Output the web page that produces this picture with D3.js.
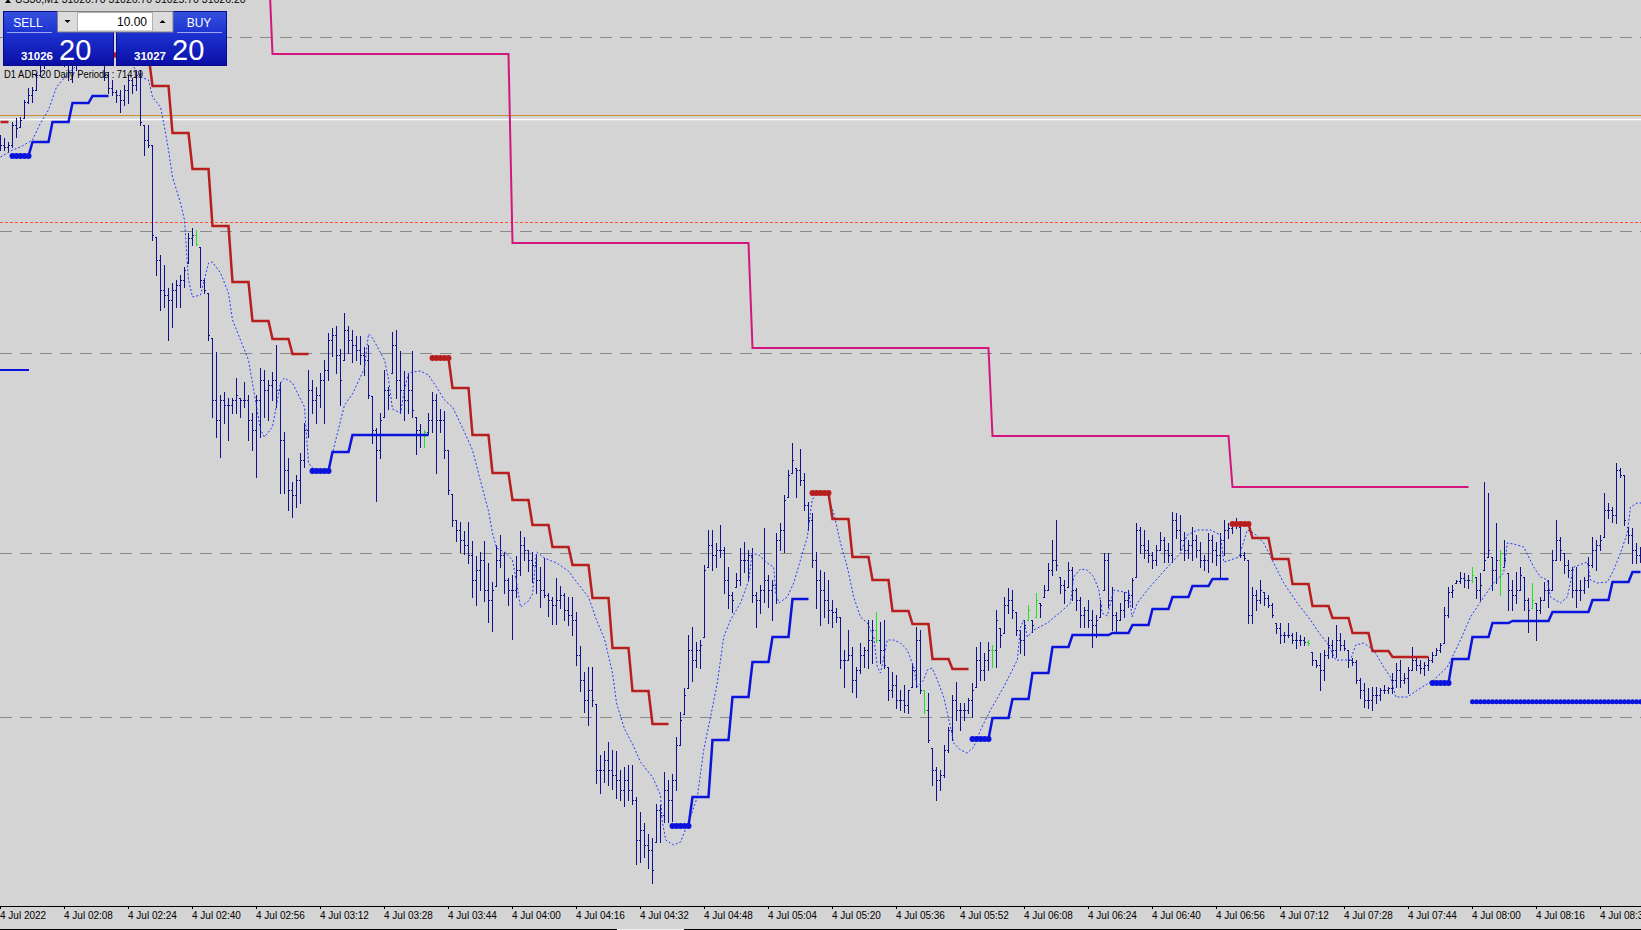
<!DOCTYPE html>
<html>
<head>
<meta charset="utf-8">
<script src="https://cdnjs.cloudflare.com/ajax/libs/d3/7.8.5/d3.min.js"></script>
<style>
  body { margin: 0; background: #d4d4d4; overflow: hidden; }
  svg { display: block; }
  text { font-family: "Liberation Sans", Arial, sans-serif; }
</style>
</head>
<body>
<svg id="chart"></svg>
<script>
/* US30 M1 - bars, trailing stop steps, average, levels */

// one value per minute bar, 01:52 .. 08:42
var highs = [
  31465,31462,31458,31478,31482,31483,31500,31512,31513,31527,
  31542,31548,31555,31560,31562,31558,31552,31545,31542,31550,
  31558,31564,31570,31566,31562,31555,31545,31528,31520,31510,
  31510,31515,31525,31522,31530,31530,31475,31475,31455,31363,
  31345,31335,31312,31317,31320,31325,31333,31367,31372,31370,
  31353,31322,31307,31262,31248,31205,31208,31202,31202,31222,
  31202,31218,31205,31187,31205,31232,31230,31220,31228,31255,
  31218,31168,31142,31118,31125,31147,31177,31230,31220,31213,
  31227,31240,31267,31272,31274,31251,31287,31274,31270,31264,
  31264,31253,31255,31204,31172,31187,31230,31213,31268,31270,
  31249,31229,31227,31249,31183,31176,31170,31187,31208,31206,
  31191,31189,31150,31106,31080,31078,31069,31078,31059,31044,
  31048,31059,31037,31018,31055,31065,31048,31022,31025,31044,
  31069,31063,31050,31048,31046,31033,31042,31007,31003,31022,
  31014,31007,31003,31003,30988,30954,30928,30933,30933,30896,
  30845,30849,30858,30850,30849,30830,30833,30835,30835,30803,
  30788,30777,30766,30762,30796,30795,30828,30820,30826,30863,
  30888,30912,30965,30973,30958,30960,31035,31070,31070,31057,
  31075,31053,31033,31008,31027,31052,31058,31050,31052,31008,
  31015,31072,31025,31020,31067,31077,31105,31130,31157,31132,
  31151,31127,31098,31087,31048,31030,31028,31020,31000,30992,
  30983,30950,30970,30953,30933,30957,30953,30980,30980,30988,
  30978,30980,30933,30928,30925,30910,30915,30910,30937,30973,
  30970,30910,30907,30852,30833,30830,30855,30873,30905,30918,
  30897,30897,30902,30917,30953,30958,30947,30958,30955,30990,
  30972,31003,31012,31010,30988,30970,30980,30995,30980,31007,
  30997,31015,31037,31060,31080,31023,31020,31038,31033,31012,
  31003,30993,31000,30990,30985,31000,31047,31047,31013,30988,
  30997,31008,31010,31022,31077,31073,31070,31060,31048,31055,
  31068,31063,31057,31088,31087,31085,31068,31060,31073,31065,
  31058,31045,31067,31065,31058,31067,31080,31077,31078,31082,
  31073,31048,31040,31013,31010,31020,31008,31005,30997,30977,
  30977,30968,30977,30967,30968,30965,30963,30960,30948,30940,
  30947,30950,30963,30960,30975,30967,30960,30950,30942,30940,
  30922,30917,30912,30913,30913,30912,30915,30913,30927,30937,
  30940,30927,30933,30953,30942,30940,30938,30943,30948,30952,
  30957,30993,31013,31015,31020,31028,31027,31025,31033,31023,
  31027,31118,31107,31043,31077,31050,31060,31027,31020,31028,
  31033,31023,31002,31017,30997,31003,31018,31020,31050,31080,
  31063,31047,31040,31033,31033,31020,31023,31043,31063,31060,
  31065,31107,31097,31093,31137,31132,31125,31073,31072,31057,31053
];
var lows = [
  31450,31450,31448,31453,31463,31473,31482,31497,31498,31510,
  31524,31532,31538,31542,31545,31540,31534,31520,31518,31530,
  31538,31545,31550,31548,31542,31536,31520,31507,31505,31498,
  31488,31495,31497,31507,31510,31475,31445,31453,31360,31325,
  31290,31293,31260,31273,31293,31293,31313,31337,31355,31355,
  31313,31307,31260,31183,31163,31143,31177,31160,31187,31187,
  31183,31193,31160,31150,31123,31163,31183,31180,31200,31193,
  31107,31107,31090,31083,31093,31097,31133,31163,31187,31177,
  31193,31177,31220,31244,31227,31195,31240,31247,31238,31240,
  31236,31225,31202,31157,31099,31142,31183,31191,31227,31202,
  31187,31180,31187,31183,31146,31153,31153,31166,31168,31127,
  31168,31142,31106,31074,31059,31048,31046,31037,31003,30995,
  31010,30999,30978,30969,31014,31033,31007,30995,30961,31003,
  31025,31040,31029,31018,31007,30993,31003,30984,30976,30976,
  30992,30980,30975,30965,30935,30909,30888,30875,30894,30817,
  30807,30818,30815,30811,30802,30800,30794,30800,30796,30736,
  30738,30743,30732,30717,30758,30758,30778,30778,30779,30810,
  30855,30886,30912,30919,30933,30932,30963,31033,31030,31033,
  31043,31007,30992,30988,31013,31015,31028,31020,30998,30973,
  30987,30998,30993,30980,30997,31050,31048,31103,31127,31103,
  31115,31090,31070,31033,30992,30975,30983,30977,30973,30978,
  30932,30913,30940,30908,30903,30927,30933,30932,30937,30958,
  30937,30932,30900,30903,30892,30890,30888,30887,30913,30913,
  30907,30887,30858,30815,30800,30810,30823,30848,30860,30880,
  30870,30880,30887,30883,30913,30920,30920,30930,30933,30933,
  30953,30967,30987,30982,30965,30947,30945,30980,30968,30983,
  30983,31003,31010,31025,31030,31007,30997,31013,31000,30990,
  30973,30973,30973,30953,30963,30983,31010,30993,30970,30968,
  30980,30983,30993,30993,31023,31047,31042,31038,31032,31035,
  31050,31038,31038,31038,31062,31050,31040,31042,31040,31043,
  31033,31030,31028,31038,31035,31023,31045,31062,31067,31072,
  31043,31040,30977,30977,30990,30997,30995,30993,30983,30967,
  30957,30958,30963,30957,30952,30955,30955,30955,30935,30933,
  30910,30920,30942,30943,30943,30950,30950,30933,30935,30917,
  30902,30893,30892,30890,30897,30900,30907,30907,30907,30913,
  30913,30917,30907,30930,30930,30927,30925,30930,30938,30945,
  30948,30957,30983,31003,31017,31017,31013,31012,31018,31002,
  31000,31030,31043,31010,31017,31005,31033,30990,30990,30997,
  31010,30990,30968,30992,30960,30987,31000,30993,31010,31040,
  31040,31027,31023,31003,30993,31000,31007,31013,31033,31030,
  31050,31063,31082,31078,31077,31123,31075,31057,31037,31037,31038
];
var closes = [
  31455,31453,31455,31475,31472,31480,31498,31505,31510,31525,
  31535,31542,31550,31552,31555,31545,31540,31528,31538,31545,
  31552,31560,31558,31554,31550,31542,31525,31512,31508,31505,
  31500,31510,31520,31515,31525,31478,31460,31455,31365,31340,
  31310,31305,31300,31310,31315,31320,31330,31362,31365,31356,
  31320,31310,31265,31200,31180,31200,31195,31195,31200,31205,
  31200,31200,31180,31170,31200,31220,31210,31215,31220,31210,
  31160,31130,31110,31105,31120,31140,31170,31210,31200,31205,
  31220,31230,31260,31265,31245,31220,31270,31260,31255,31250,
  31245,31240,31205,31170,31150,31180,31210,31205,31255,31220,
  31210,31200,31210,31190,31170,31165,31168,31180,31200,31180,
  31180,31150,31110,31080,31070,31060,31055,31045,31020,31030,
  31040,31010,31000,31010,31040,31045,31020,31010,31010,31030,
  31055,31050,31040,31035,31020,31010,31005,31000,30995,31000,
  31005,30990,30985,30980,30945,30920,30900,30910,30900,30830,
  30830,30840,30830,30825,30820,30810,30820,30810,30800,30760,
  30770,30755,30750,30730,30790,30785,30810,30800,30820,30855,
  30880,30905,30950,30940,30950,30955,31030,31055,31045,31050,
  31050,31020,31005,31000,31020,31040,31040,31045,31005,31000,
  31010,31020,31010,31015,31060,31070,31100,31125,31140,31130,
  31120,31095,31080,31040,31020,31010,31000,30990,30988,30983,
  30940,30940,30945,30920,30930,30945,30950,30960,30970,30960,
  30950,30935,30910,30915,30900,30900,30895,30910,30930,30960,
  30910,30890,30860,30830,30820,30825,30850,30870,30900,30890,
  30890,30890,30900,30910,30940,30930,30940,30950,30950,30980,
  30965,30995,31000,30990,30970,30960,30975,30990,30975,31000,
  30995,31010,31030,31040,31035,31015,31010,31030,31010,31000,
  30985,30990,30980,30975,30980,30995,31040,31000,30985,30980,
  30990,31000,31005,31020,31070,31055,31050,31045,31040,31050,
  31060,31050,31045,31080,31070,31060,31050,31055,31060,31050,
  31040,31040,31060,31050,31045,31060,31070,31072,31075,31075,
  31045,31042,30985,31005,31000,31010,31002,30995,30985,30972,
  30965,30965,30965,30960,30960,30960,30958,30957,30940,30935,
  30930,30945,30955,30950,30960,30955,30952,30940,30938,30920,
  30910,30900,30900,30905,30905,30910,30910,30912,30920,30930,
  30920,30922,30930,30940,30935,30932,30935,30940,30945,30950,
  30955,30985,31008,31010,31019,31022,31020,31020,31025,31010,
  31015,31040,31050,31030,31040,31030,31040,31010,31005,31010,
  31025,31000,30990,31000,30990,31000,31010,31010,31040,31060,
  31050,31035,31030,31010,31010,31010,31020,31035,31050,31055,
  31060,31090,31090,31085,31130,31125,31080,31065,31050,31045,31045
];
var firstOpen = 31450;
var greenBars = [49, 106, 219, 231, 248, 257, 259, 327, 368, 375, 383];

// trailing stop: each trend is a list of [fromBar, toBar, price]
var redTrends = [
  [[0, 2, 31478]],
  [[28, 37, 31545], [38, 42, 31514], [43, 47, 31467], [48, 52, 31431], [53, 57, 31374],
   [58, 62, 31318], [63, 67, 31279], [68, 72, 31261], [73, 77, 31246]],
  [[108, 112, 31242], [113, 117, 31212], [118, 122, 31165], [123, 127, 31127], [128, 132, 31100],
   [133, 137, 31075], [138, 142, 31053], [143, 147, 31035], [148, 152, 31002], [153, 157, 30952],
   [158, 162, 30909], [163, 167, 30876]],
  [[203, 207, 31107], [208, 212, 31081], [213, 217, 31043], [218, 222, 31020], [223, 227, 30989],
   [228, 232, 30976], [233, 237, 30941], [238, 242, 30931]],
  [[308, 312, 31076], [313, 317, 31062], [318, 322, 31041], [323, 327, 31016], [328, 332, 30994],
   [333, 337, 30982], [338, 342, 30967], [343, 347, 30949], [348, 357, 30943]]
];
var blueTrends = [
  [[3, 7, 31444], [8, 12, 31458], [13, 17, 31478], [18, 22, 31497], [23, 27, 31504]],
  [[78, 82, 31129], [83, 87, 31148], [88, 107, 31165]],
  [[168, 172, 30774], [173, 177, 30803], [178, 182, 30860], [183, 187, 30903], [188, 192, 30938],
   [193, 197, 30963], [198, 202, 31001]],
  [[243, 247, 30861], [248, 252, 30882], [253, 257, 30901], [258, 262, 30927], [263, 267, 30953],
   [268, 277, 30965], [278, 282, 30967], [283, 287, 30975], [288, 292, 30991], [293, 297, 31003],
   [298, 302, 31014], [303, 307, 31021]],
  [[358, 362, 30917], [363, 367, 30941], [368, 372, 30963], [373, 377, 30977], [378, 387, 30979],
   [388, 397, 30988], [398, 402, 31000], [403, 407, 31018], [408, 410, 31028]]
];
// H1 level (magenta)
var hourSteps = [[0, 67, 31640], [68, 127, 31546], [128, 187, 31357], [188, 247, 31252],
                 [248, 307, 31164], [308, 367, 31113]];

// dotted average: [bar, price]
var maPoints = [
  [0,31443],[3,31450],[5,31453],[8,31460],[10,31477],[12,31490],[14,31513],[17,31527],[20,31538],
  [25,31545],[30,31544],[33,31535],[35,31523],[37,31520],[38,31503],[40,31493],[41,31473],
  [42,31450],[43,31423],[45,31397],[46,31380],[47,31320],[48,31303],[50,31305],[52,31337],
  [53,31338],[55,31327],[57,31307],[58,31280],[60,31260],[62,31240],[63,31217],[65,31170],
  [66,31163],[68,31173],[70,31217],[71,31222],[73,31217],[76,31193],[77,31137],[78,31132],
  [81,31130],[82,31131],[86,31195],[88,31206],[91,31232],[92,31266],[93,31262],[96,31240],
  [97,31221],[98,31191],[100,31187],[101,31210],[102,31227],[103,31228],[105,31229],[107,31225],
  [109,31213],[111,31200],[113,31193],[116,31168],[118,31150],[120,31119],[122,31089],[123,31067],
  [124,31052],[126,31048],[128,31040],[129,31018],[130,30993],[132,30999],[133,31006],[134,31048],
  [136,31042],[139,31037],[142,31029],[144,31018],[147,31003],[149,30980],[151,30961],[153,30927],
  [154,30897],[156,30871],[158,30856],[160,30838],[163,30823],[165,30805],[165.4,30780],
  [166.3,30760],[168.3,30755],[170,30758],[172.5,30783],[174.2,30803],[175.8,30850],[177.5,30883],
  [179.2,30917],[180.8,30963],[182.5,30980],[185,30997],[187.1,31020],[187.9,31047],[189.6,31045],
  [191.7,31037],[193.3,31033],[193.8,31007],[194.6,30997],[196.7,31003],[198.3,31017],[200,31040],
  [201.7,31063],[202.9,31100],[204.6,31110],[206.7,31105],[208.3,31087],[210,31057],[211.7,31033],
  [213.3,31003],[215,30983],[216.7,30977],[218.3,30963],[219.2,30933],[220,30927],[221.7,30960],
  [223.3,30960],[225,30957],[226.7,30950],[228.3,30933],[229.2,30913],[230.8,30920],[231.7,30930],
  [232.9,30932],[234.2,30920],[235.8,30903],[237.5,30873],[238.3,30857],[240,30850],[241.7,30847],
  [243.3,30853],[245,30870],[247.5,30890],[250.8,30913],[254.2,30940],[255,30973],[255.8,30980],
  [256.7,30963],[258.3,30970],[261.7,30977],[265,30988],[267.5,30997],[268.3,31023],[270,31031],
  [271.7,31030],[273.3,31023],[274.6,31010],[275.4,30987],[276.7,30984],[277.5,30997],[278.3,31010],
  [280.8,31008],[282.1,31007],[282.9,30983],[284.2,30997],[286.7,31010],[290,31025],[292.9,31038],
  [295,31047],[296.7,31065],[299.2,31070],[302.5,31070],[305,31065],[305.8,31038],[307.5,31040],
  [309.6,31043],[311.7,31070],[313.3,31067],[315.8,31057],[318.3,31037],[320.8,31017],[324.2,30997],
  [327.5,30980],[330,30965],[331.7,30957],[333.8,30940],[337.5,30940],[338.8,30955],[340.8,30957],
  [343.3,30950],[345.8,30933],[347.5,30923],[348.8,30903],[351.7,30903],[355,30912],[358.3,30920],
  [361.7,30933],[365,30960],[367.5,30983],[370.8,31003],[373.3,31017],[375.8,31027],[376.7,31057],
  [378.3,31056],[380.8,31053],[383.3,31033],[385,31023],[386.7,31020],[387.5,31003],[390,30997],
  [391.7,31003],[393.3,31033],[396.7,31038],[397.5,31020],[399.2,31017],[401.7,31018],[403.3,31030],
  [405,31047],[406.7,31067],[407.5,31093],[409.2,31097],[410.3,31097]
];

// horizontal levels
var dashedLevels = [31563.4, 31369.3, 31247.3, 31046.7, 30882.7];
var redDotLevel = 31378.3;
var orangeLevel = 31484.5;
var whiteLevel = 31480.7;
var blueLeftLevel = [0, 7, 31230];
var blueDotLevel = [368, 410, 30898.3];

var tickLabels = ["4 Jul 2022", "4 Jul 02:08", "4 Jul 02:24", "4 Jul 02:40", "4 Jul 02:56",
  "4 Jul 03:12", "4 Jul 03:28", "4 Jul 03:44", "4 Jul 04:00", "4 Jul 04:16", "4 Jul 04:32",
  "4 Jul 04:48", "4 Jul 05:04", "4 Jul 05:20", "4 Jul 05:36", "4 Jul 05:52", "4 Jul 06:08",
  "4 Jul 06:24", "4 Jul 06:40", "4 Jul 06:56", "4 Jul 07:12", "4 Jul 07:28", "4 Jul 07:44",
  "4 Jul 08:00", "4 Jul 08:16", "4 Jul 08:32"];
var barsPerTick = 16;

var W = 1641, H = 930, plotH = 906;
var nBars = highs.length;

var x = d3.scaleLinear().domain([0, nBars - 1]).range([0, (nBars - 1) * 4]);
var y = d3.scaleLinear().domain([31600, 30670]).range([0, 930]);

var svg = d3.select("#chart").attr("width", W).attr("height", H);
var defs = svg.append("defs");

svg.append("rect").attr("width", W).attr("height", H).attr("fill", "#d4d4d4");

defs.append("clipPath").attr("id", "plot")
  .append("rect").attr("width", W).attr("height", plotH);
var g = svg.append("g").attr("clip-path", "url(#plot)");

function level(p, color, width, dash) {
  var yy = Math.round(y(p)) + 0.5;
  g.append("line")
    .attr("x1", 0).attr("x2", W).attr("y1", yy).attr("y2", yy)
    .attr("stroke", color).attr("stroke-width", width)
    .attr("stroke-dasharray", dash || null);
}

dashedLevels.forEach(function(p) { level(p, "#8a8a8a", 1, "12,8"); });
level(redDotLevel, "#ff5030", 1, "3,2");
level(orangeLevel, "#c8902c", 1);
level(whiteLevel, "#ffffff", 1.5);

function expand(steps) {
  var pts = [];
  steps.forEach(function(s) {
    for (var k = s[0]; k <= s[1]; k++) pts.push([k, s[2]]);
  });
  return pts;
}
var stepLine = d3.line().x(function(d) { return x(d[0]) + 0.5; }).y(function(d) { return y(d[1]); });

// magenta hourly level
g.append("path").attr("d", stepLine(expand(hourSteps)))
  .attr("fill", "none").attr("stroke", "#d2167d").attr("stroke-width", 2);

// OHLC bars
var bars = g.append("g").selectAll("g")
  .data(d3.range(nBars))
  .join("g")
  .attr("fill", function(k) { return greenBars.indexOf(k) >= 0 ? "#22e022" : "#10108c"; });

function py(p) { return Math.round(y(p)); }
bars.append("rect")
  .attr("x", function(k) { return x(k); })
  .attr("y", function(k) { return py(highs[k]); })
  .attr("width", 1)
  .attr("height", function(k) { return Math.max(1, py(lows[k]) - py(highs[k]) + 1); });
bars.append("rect")
  .attr("x", function(k) { return x(k) - 1; })
  .attr("y", function(k) {
    var o = k ? closes[k - 1] : firstOpen;
    o = Math.min(Math.max(o, lows[k]), highs[k]);
    return py(o);
  })
  .attr("width", 1).attr("height", 1);
bars.append("rect")
  .attr("x", function(k) { return x(k) + 1; })
  .attr("y", function(k) { return py(closes[k]); })
  .attr("width", 1).attr("height", 1);

// dotted average
g.append("path")
  .attr("d", d3.line().x(function(d) { return x(d[0]) + 0.5; }).y(function(d) { return y(d[1]); })(maPoints))
  .attr("fill", "none").attr("stroke", "#1f3cff").attr("stroke-width", 1)
  .attr("stroke-dasharray", "2,2");

// trailing stop lines
function drawTrends(trends, color) {
  trends.forEach(function(tr) {
    g.append("path").attr("d", stepLine(expand(tr)))
      .attr("fill", "none").attr("stroke", color).attr("stroke-width", 2.5);
    if (tr[0][0] > 0) {
      var first = tr[0];
      g.append("g").selectAll("circle")
        .data(d3.range(first[0], first[0] + 5))
        .join("circle")
        .attr("cx", function(k) { return x(k) + 0.5; })
        .attr("cy", y(first[2]))
        .attr("r", 3)
        .attr("fill", color);
    }
  });
}
drawTrends(redTrends, "#b81e1e");
drawTrends(blueTrends, "#0a14dc");

// left blue level stub and right dotted blue level
g.append("line")
  .attr("x1", x(blueLeftLevel[0])).attr("x2", x(blueLeftLevel[1]) + 1)
  .attr("y1", y(blueLeftLevel[2])).attr("y2", y(blueLeftLevel[2]))
  .attr("stroke", "#0a14dc").attr("stroke-width", 2);
g.append("g").selectAll("circle")
  .data(d3.range(blueDotLevel[0], blueDotLevel[1] + 1))
  .join("circle")
  .attr("cx", function(k) { return x(k) + 0.5; })
  .attr("cy", y(blueDotLevel[2]))
  .attr("r", 2.5)
  .attr("fill", "#0a14dc");

// time axis
var axis = d3.axisBottom(x)
  .tickValues(tickLabels.map(function(_, i) { return i * barsPerTick; }))
  .tickFormat(function(d, i) { return tickLabels[i]; })
  .tickSize(3).tickSizeOuter(0);
var ax = svg.append("g").attr("transform", "translate(0," + plotH + ")").call(axis);
ax.select(".domain").remove();
ax.selectAll("line").attr("stroke", "#000");
ax.selectAll("text")
  .attr("text-anchor", "start").attr("x", -0.5).attr("y", 5.5)
  .attr("fill", "#000").style("font-size", "10px")
  .style("font-family", "'Liberation Sans', Arial, sans-serif");
svg.append("line").attr("x1", 0).attr("x2", W).attr("y1", plotH + 0.5).attr("y2", plotH + 0.5)
  .attr("stroke", "#000");
svg.append("line").attr("x1", 0).attr("x2", W).attr("y1", 929.5).attr("y2", 929.5)
  .attr("stroke", "#000");
svg.append("rect").attr("x", 617).attr("y", 929).attr("width", 67).attr("height", 1).attr("fill", "#f0f0f0");

// header line (top of it is off the window, as in the terminal)
svg.append("path").attr("d", "M5,3 L8,-1 L11,3 Z").attr("fill", "#000");
svg.append("text").attr("x", 15).attr("y", 3).style("font-size", "10.5px").attr("fill", "#000")
  .text("US30,M1  31026.70 31026.70 31025.70 31026.20");

// one click trading panel
var grad = defs.append("linearGradient").attr("id", "box")
  .attr("x1", 0).attr("y1", 0).attr("x2", 0).attr("y2", 1);
grad.append("stop").attr("offset", "0%").attr("stop-color", "#3550de");
grad.append("stop").attr("offset", "40%").attr("stop-color", "#1d33d2");
grad.append("stop").attr("offset", "100%").attr("stop-color", "#0a0ea4");

var panel = svg.append("g");
[[3, "31026"], [116, "31027"]].forEach(function(b) {
  panel.append("rect").attr("x", b[0] + 0.5).attr("y", 11.5).attr("width", 110).attr("height", 54)
    .attr("fill", "url(#box)").attr("stroke", "#0a0a8a");
  panel.append("text").attr("x", b[0] + 18).attr("y", 60).attr("fill", "#fff")
    .style("font-size", "11.5px").style("font-weight", "bold").text(b[1]);
  panel.append("text").attr("x", b[0] + 56).attr("y", 60).attr("fill", "#fff")
    .style("font-size", "29px").text("20");
});
panel.append("line").attr("x1", 7).attr("x2", 52).attr("y1", 32.5).attr("y2", 32.5).attr("stroke", "#9aa8f0");
panel.append("line").attr("x1", 177).attr("x2", 222).attr("y1", 32.5).attr("y2", 32.5).attr("stroke", "#9aa8f0");
panel.append("text").attr("x", 28).attr("y", 26.5).attr("text-anchor", "middle").attr("fill", "#fff")
  .style("font-size", "12px").text("SELL");
panel.append("text").attr("x", 199).attr("y", 26.5).attr("text-anchor", "middle").attr("fill", "#fff")
  .style("font-size", "12px").text("BUY");

panel.append("rect").attr("x", 57.5).attr("y", 11.5).attr("width", 115.5).attr("height", 20.5)
  .attr("fill", "#dcdcdc").attr("stroke", "#808080");
panel.append("rect").attr("x", 77.5).attr("y", 12.5).attr("width", 75).attr("height", 18.5)
  .attr("fill", "#ffffff").attr("stroke", "#b0b0b0");
panel.append("path").attr("d", "M64.5,20 L70.5,20 L67.5,23 Z").attr("fill", "#000");
panel.append("path").attr("d", "M159.5,23 L165.5,23 L162.5,20 Z").attr("fill", "#000");
panel.append("text").attr("x", 147).attr("y", 26).attr("text-anchor", "end").attr("fill", "#000")
  .style("font-size", "12px").text("10.00");

svg.append("text").attr("x", 4).attr("y", 78).attr("fill", "#000")
  .attr("textLength", 139).attr("lengthAdjust", "spacingAndGlyphs")
  .style("font-size", "10.5px").text("D1 ADR 20 Daily Periods : 71419");
</script>
</body>
</html>
